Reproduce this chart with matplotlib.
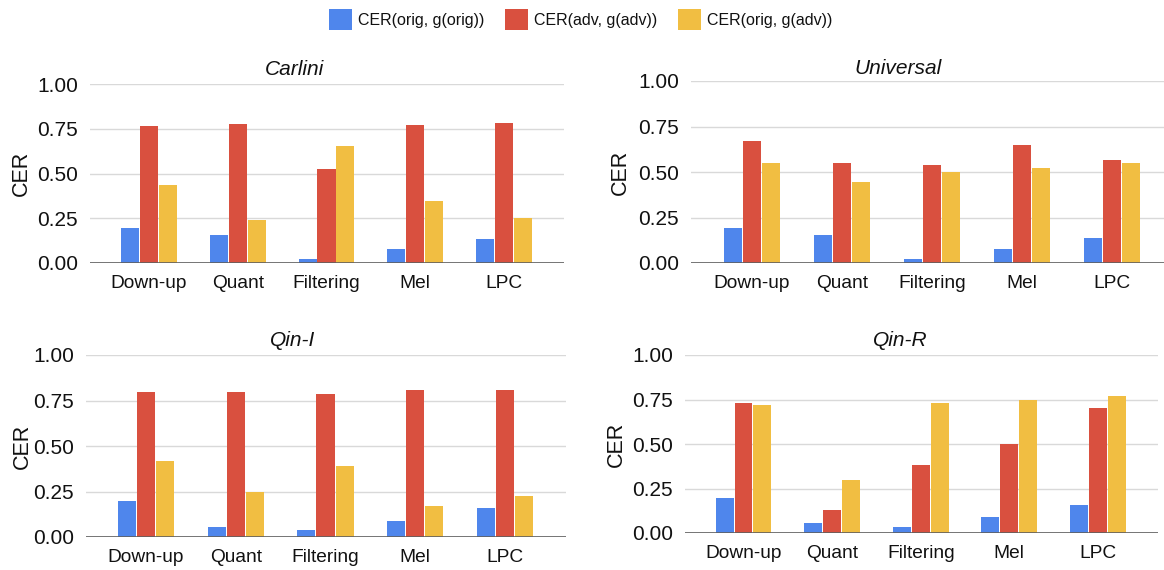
import numpy as np
import matplotlib.pyplot as plt
from matplotlib.patches import Patch

plt.rcParams['font.family'] = ['Liberation Sans', 'DejaVu Sans']

# Data
categories = ['Down-up', 'Quant', 'Filtering', 'Mel', 'LPC']
series_names = ['CER(orig, g(orig))', 'CER(adv, g(adv))', 'CER(orig, g(adv))']
colors = ['#4f86ec', '#d9503f', '#f1be42']

carlini_orig = [0.193, 0.155, 0.025, 0.077, 0.136]
carlini_adv = [0.765, 0.778, 0.523, 0.770, 0.783]
carlini_cross = [0.437, 0.243, 0.652, 0.344, 0.249]

universal_orig = [0.194, 0.154, 0.024, 0.077, 0.136]
universal_adv = [0.672, 0.550, 0.539, 0.646, 0.565]
universal_cross = [0.550, 0.444, 0.499, 0.521, 0.549]

qini_orig = [0.197, 0.055, 0.039, 0.090, 0.157]
qini_adv = [0.796, 0.796, 0.788, 0.805, 0.805]
qini_cross = [0.420, 0.245, 0.392, 0.168, 0.228]

qinr_orig = [0.195, 0.054, 0.036, 0.088, 0.155]
qinr_adv = [0.728, 0.131, 0.384, 0.502, 0.704]
qinr_cross = [0.721, 0.296, 0.728, 0.745, 0.768]

panels = [
    ('Carlini', [carlini_orig, carlini_adv, carlini_cross]),
    ('Universal', [universal_orig, universal_adv, universal_cross]),
    ('Qin-I', [qini_orig, qini_adv, qini_cross]),
    ('Qin-R', [qinr_orig, qinr_adv, qinr_cross]),
]

# Layout in pixels: grid start x, first category center, category spacing,
# y of 1.00, y of 0.00, title x/y, y-label x
W, H = 1164, 570
layout = [
    (90, 149, 88.75, 84, 263, 294, 70, 21),
    (691, 752, 90.0, 81, 263, 898, 68, 620),
    (86, 146, 89.75, 355, 537, 293, 341, 22),
    (685, 743.5, 88.6, 355, 533, 900, 341, 616),
]

fig = plt.figure(figsize=(W / 100, H / 100), dpi=100)

x = np.arange(len(categories))
bw = 0.203
step = 0.213
txt = '#111111'

for (title, series), (xl, c0, sp, ytop, ybot, tx, ty, lx) in zip(panels, layout):
    left_lim = -(c0 - xl) / sp
    right_lim = 4.68
    width_px = (right_lim - left_lim) * sp
    ax = fig.add_axes([xl / W, 1 - ybot / H, width_px / W, (ybot - ytop) / H])
    for i, vals in enumerate(series):
        ax.bar(x + (i - 1) * step, vals, width=bw, color=colors[i], zorder=3)
    ax.set_xlim(left_lim, right_lim)
    ax.set_ylim(0, 1.0)
    ax.set_yticks([0, 0.25, 0.5, 0.75, 1.0])
    ax.set_yticklabels(['%.2f' % v for v in [0, 0.25, 0.5, 0.75, 1.0]])
    ax.set_xticks(x)
    ax.set_xticklabels(categories)
    ax.yaxis.grid(True, color='#d9d9d9', linewidth=1.0, zorder=0)
    ax.axhline(0, color='#5f5f5f', linewidth=1.2, zorder=4)
    for s in ax.spines.values():
        s.set_visible(False)
    ax.tick_params(axis='y', length=0, pad=8.6, labelsize=15, colors=txt)
    ax.tick_params(axis='x', length=0, pad=9, labelsize=13.8, colors=txt)
    fig.text(tx / W, 1 - ty / H, title, ha='center', va='center',
             fontsize=15, style='italic', color=txt)
    fig.text(lx / W, 1 - (ytop + ybot) / 2 / H, 'CER', ha='center', va='center',
             rotation=90, fontsize=15.5, color=txt)

handles = [Patch(facecolor=c, edgecolor='none') for c in colors]
fig.legend(handles, series_names, loc='center', bbox_to_anchor=(581 / W, 1 - 19.5 / H),
           ncol=3, frameon=False, fontsize=11.5, handlelength=1.44, handleheight=1.56,
           handletextpad=0.38, columnspacing=1.3, borderpad=0, labelcolor=txt)

plt.savefig('out.png', dpi=100)
